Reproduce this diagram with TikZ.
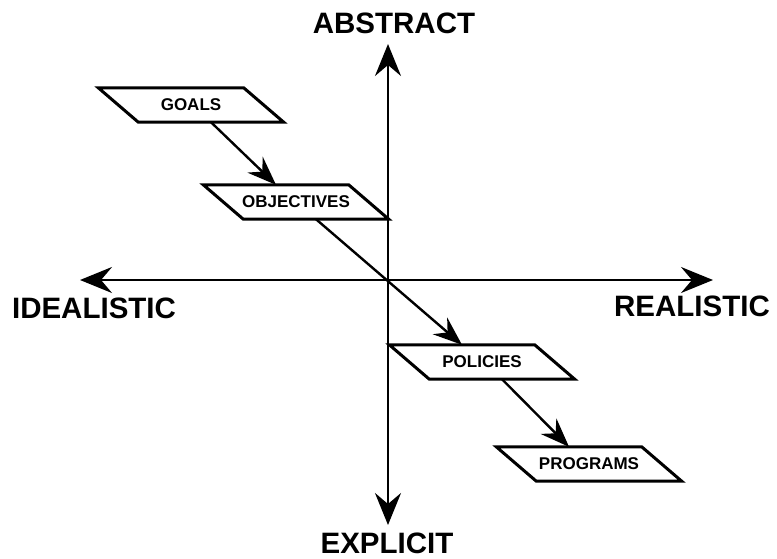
\documentclass[tikz,border=0pt]{standalone}
\usepackage{fontspec}
\setmainfont{Liberation Sans}
\usetikzlibrary{arrows.meta}

\newcommand{\polefont}{\fontsize{29.5}{34}\selectfont\bfseries}
\newcommand{\planfont}{\fontsize{17}{20}\selectfont\bfseries}

\begin{document}
\begin{tikzpicture}[x=1pt, y=-1pt,
  >={Stealth[length=32pt, width=26pt, inset=11pt]},
  axis/.style={line width=2.4pt, <->},
  pole/.style={font=\polefont, inner sep=0pt},
  plan/.style={minimum width=145pt, minimum height=34pt, inner sep=0pt, font=\planfont},
  outline/.style={line width=3pt, line join=miter},
  flow/.style={line width=2.4pt, -{Stealth[length=29pt, width=22pt, inset=10pt]}}]

% Frame (pixels of the page, y downwards)
\useasboundingbox (0,0) rectangle (777,558);

% Axes
\coordinate (top) at (388,44);
\coordinate (bottom) at (388,525);
\coordinate (left) at (80,280);
\coordinate (right) at (713,280);
\draw[axis] (top) -- (bottom);
\draw[axis] (left) -- (right);

% Axis labels
\node[pole] (abstract) at (394,23) {ABSTRACT};
\node[pole, anchor=base] (explicit) at (387,553) {EXPLICIT};
\node[pole] (idealistic) at (94,308) {IDEALISTIC};
\node[pole] (realistic) at (692,306) {REALISTIC};

% Planning levels
\node[plan] (goals) at (191,105) {GOALS};
\node[plan] (objectives) at (296,202) {OBJECTIVES};
\node[plan] (policies) at (482,362) {POLICIES};
\node[plan] (programs) at (589,464) {PROGRAMS};

% Slanted outlines round the levels
\foreach \n in {goals,objectives,policies,programs}
  \draw[outline] ([xshift=-20pt]\n.north west) -- ([xshift=-20pt]\n.north east)
    -- ([xshift=20pt]\n.south east) -- ([xshift=20pt]\n.south west) -- cycle;

% Flow from level to level
\draw[flow] ([xshift=20pt]goals.south) -- ([xshift=-20pt]objectives.north);
\draw[flow] ([xshift=20pt]objectives.south) -- ([xshift=-20pt]policies.north);
\draw[flow] ([xshift=20pt]policies.south) -- ([xshift=-20pt]programs.north);

\end{tikzpicture}
\end{document}
